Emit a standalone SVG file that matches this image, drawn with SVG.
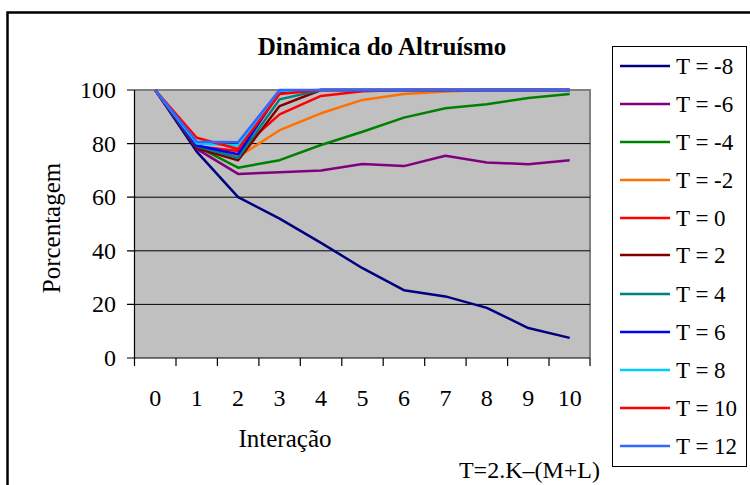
<svg xmlns="http://www.w3.org/2000/svg" width="750" height="485" viewBox="0 0 750 485" font-family="'Liberation Serif', 'Times New Roman', 'DejaVu Serif', serif">
<style>
text{fill:#000}
.tk{font-size:24px}
.ax{font-size:25px}
.lg{font-size:23px}
.ttl{font-size:25px;font-weight:bold}
.grid{stroke:#000;stroke-width:1;fill:none}
.s{fill:none;stroke-width:2.5;stroke-linejoin:round;stroke-linecap:butt}
.k{stroke:#000;stroke-width:1.2;fill:none}
</style>
<rect width="750" height="485" fill="#fff"/>
<g id="frame"><path d="M7.5,485 V12.5 H750" fill="none" stroke="#000" stroke-width="2.5"/></g>
<text class="ttl" x="382" y="55" text-anchor="middle">Dinâmica do Altruísmo</text>
<g id="plot">
<rect x="134.5" y="90" width="455.5" height="268" fill="#c0c0c0"/>
<path d="M134.5,90 H590 V358" fill="none" stroke="#808080" stroke-width="2"/>
<path class="grid" d="M134.5,143.6 H590 M134.5,197.2 H590 M134.5,250.8 H590 M134.5,304.4 H590"/>
</g>
<g id="axes">
<path class="k" d="M134.5,90 V358 H590"/>
<path class="k" d="M127,90 H134.5 M127,143.6 H134.5 M127,197.2 H134.5 M127,250.8 H134.5 M127,304.4 H134.5 M127,358 H134.5"/>
<path class="k" d="M134.5,358 V366 M176,358 V366 M217.4,358 V366 M258.9,358 V366 M300.3,358 V366 M341.8,358 V366 M383.2,358 V366 M424.7,358 V366 M466.1,358 V366 M507.6,358 V366 M549,358 V366 M590,358 V366"/>
<g class="tk" text-anchor="end">
<text x="116" y="98">100</text>
<text x="116" y="152">80</text>
<text x="116" y="205">60</text>
<text x="116" y="259">40</text>
<text x="116" y="312">20</text>
<text x="116" y="366">0</text>
</g>
<g class="tk" text-anchor="middle">
<text x="155.2" y="406">0</text>
<text x="196.7" y="406">1</text>
<text x="238.1" y="406">2</text>
<text x="279.6" y="406">3</text>
<text x="321" y="406">4</text>
<text x="362.5" y="406">5</text>
<text x="403.9" y="406">6</text>
<text x="445.4" y="406">7</text>
<text x="486.8" y="406">8</text>
<text x="528.3" y="406">9</text>
<text x="569.7" y="406">10</text>
</g>
<text class="ax" x="285" y="447" text-anchor="middle">Interação</text>
<text class="ax" transform="translate(60,228) rotate(-90)" text-anchor="middle">Porcentagem</text>
<text class="tk" x="600" y="478" text-anchor="end">T=2.K–(M+L)</text>
</g>
<g id="series">
<polyline class="s" stroke="#000080" points="155.2,90 196.7,151.6 238.1,197.2 279.6,218.6 321,242.8 362.5,268.2 403.9,290.2 445.4,296.4 486.8,307.9 528.3,328 569.7,337.9"/>
<polyline class="s" stroke="#800080" points="155.2,90 196.7,148.9 238.1,173.9 279.6,172.3 321,170.4 362.5,164 403.9,166.1 445.4,155.7 486.8,162.4 528.3,164.2 569.7,160.2"/>
<polyline class="s" stroke="#008000" points="155.2,90 196.7,146.3 238.1,167.7 279.6,160.2 321,145 362.5,131.8 403.9,117.6 445.4,108.2 486.8,104.2 528.3,98 569.7,94"/>
<polyline class="s" stroke="#ff7000" points="155.2,90 196.7,146.3 238.1,157 279.6,130.2 321,113.3 362.5,99.9 403.9,94 445.4,91.6 486.8,90 528.3,90 569.7,90"/>
<polyline class="s" stroke="#ff0000" points="155.2,90 196.7,146.3 238.1,151.1 279.6,114.4 321,95.9 362.5,91.3 403.9,90 445.4,90 486.8,90 528.3,90 569.7,90"/>
<polyline class="s" stroke="#800000" points="155.2,90 196.7,148.2 238.1,160.2 279.6,106.1 321,90 362.5,90 403.9,90 445.4,90 486.8,90 528.3,90 569.7,90"/>
<polyline class="s" stroke="#008080" points="155.2,90 196.7,146.3 238.1,157.8 279.6,99.4 321,90 362.5,90 403.9,90 445.4,90 486.8,90 528.3,90 569.7,90"/>
<polyline class="s" stroke="#0000ff" points="155.2,90 196.7,145.5 238.1,154.3 279.6,92.4 321,90 362.5,90 403.9,90 445.4,90 486.8,90 528.3,90 569.7,90"/>
<polyline class="s" stroke="#00ccff" points="155.2,90 196.7,143.6 238.1,145.5 279.6,91.1 321,90 362.5,90 403.9,90 445.4,90 486.8,90 528.3,90 569.7,90"/>
<polyline class="s" stroke="#ff0000" points="155.2,90 196.7,137.7 238.1,149 279.6,94 321,90 362.5,90 403.9,90 445.4,90 486.8,90 528.3,90 569.7,90"/>
<polyline class="s" stroke="#3366ff" points="155.2,90 196.7,141.7 238.1,142.3 279.6,90 321,90 362.5,90 403.9,90 445.4,90 486.8,90 528.3,90 569.7,90"/>
</g>
<g id="legend">
<rect x="612.5" y="46.5" width="134" height="420" fill="#fff" stroke="#000" stroke-width="1"/>
<g stroke-width="2.5">
<path d="M620,66 H670" stroke="#000080"/>
<path d="M620,104 H670" stroke="#800080"/>
<path d="M620,142 H670" stroke="#008000"/>
<path d="M620,180 H670" stroke="#ff7000"/>
<path d="M620,218 H670" stroke="#ff0000"/>
<path d="M620,255 H670" stroke="#800000"/>
<path d="M620,294 H670" stroke="#008080"/>
<path d="M620,332 H670" stroke="#0000ff"/>
<path d="M620,370 H670" stroke="#00ccff"/>
<path d="M620,408 H670" stroke="#ff0000"/>
<path d="M620,446 H670" stroke="#3366ff"/>
</g>
<g class="lg">
<text x="676" y="74">T = -8</text>
<text x="676" y="112">T = -6</text>
<text x="676" y="150">T = -4</text>
<text x="676" y="188">T = -2</text>
<text x="676" y="226">T = 0</text>
<text x="676" y="263">T = 2</text>
<text x="676" y="302">T = 4</text>
<text x="676" y="340">T = 6</text>
<text x="676" y="378">T = 8</text>
<text x="676" y="416">T = 10</text>
<text x="676" y="454">T = 12</text>
</g>
</g>
</svg>
